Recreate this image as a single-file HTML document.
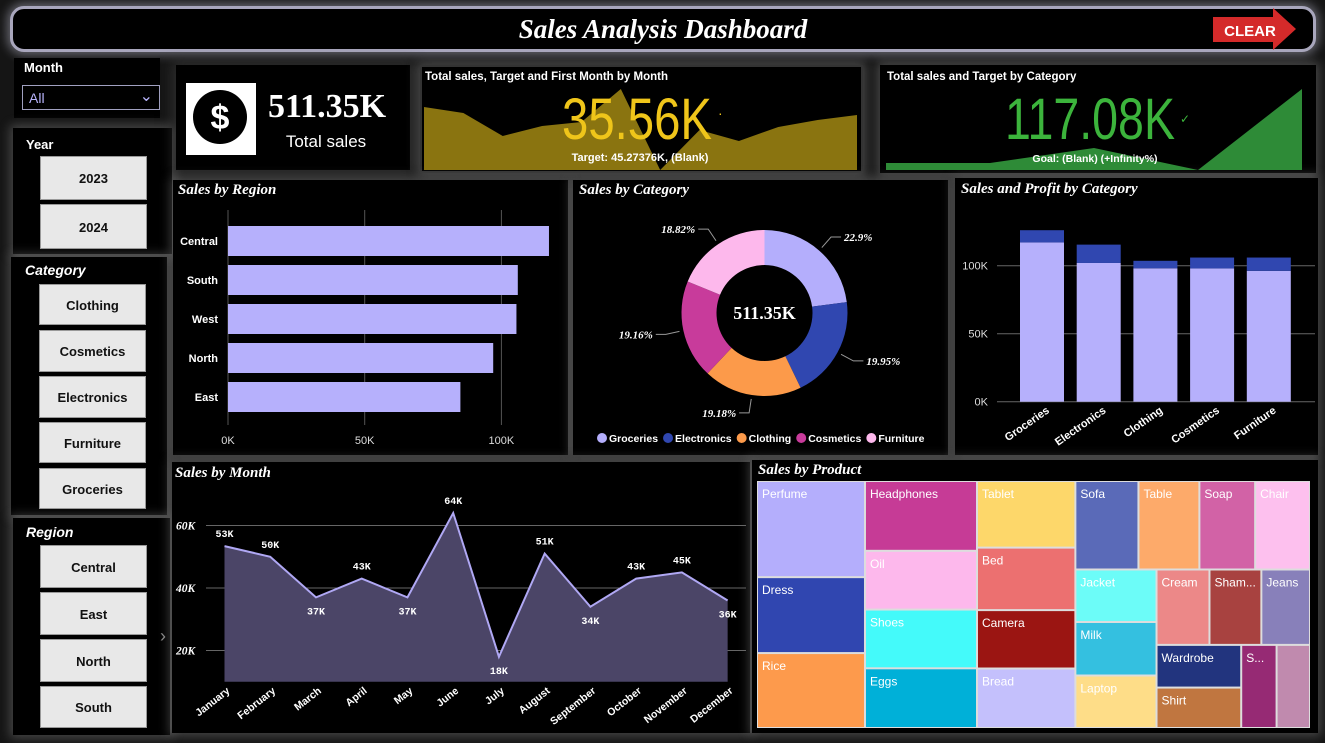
<!DOCTYPE html>
<html><head><meta charset="utf-8">
<style>
*{margin:0;padding:0;box-sizing:border-box}
body{width:1325px;height:743px;background:#151515;overflow:hidden;position:relative;font-family:"Liberation Sans",sans-serif;color:#fff}
.p{position:absolute;background:#000;box-shadow:0 0 10px 3px rgba(200,200,200,0.28)}
.btn{position:absolute;background:#e8e8e8;color:#111;font:bold 13px "Liberation Sans",sans-serif;text-align:center;border:1px solid #999}
.lbl{position:absolute;font:bold 13px "Liberation Sans",sans-serif;color:#fff}
svg{position:absolute;left:0;top:0}
</style></head><body>
<div class="p" style="left:10px;top:6px;width:1306px;height:46px;border:3px solid #a8a6bc;border-radius:14px;box-shadow:0 0 10px 3px rgba(200,200,220,0.45)"></div>
<div class="p" style="left:14px;top:58px;width:146px;height:60px;box-shadow:none"></div>
<div class="lbl" style="left:24px;top:60px">Month</div>
<div style="position:absolute;left:22px;top:85px;width:138px;height:25px;border:1px solid #a0a0c0;color:#b8b4fc;font-size:14px;padding:4px 6px">All<span style="position:absolute;right:6px;top:0;font-size:16px;color:#b8b4fc">&#8964;</span></div>
<div class="p" style="left:13px;top:128px;width:159px;height:126px"></div>
<div class="lbl" style="left:26px;top:137px">Year</div>
<div class="btn" style="left:40px;top:156px;width:107px;height:44px;line-height:44px">2023</div>
<div class="btn" style="left:40px;top:204px;width:107px;height:45px;line-height:45px">2024</div>
<div class="p" style="left:11px;top:257px;width:156px;height:258px"></div>
<div class="lbl" style="left:25px;top:262px;font-size:14px;font-style:italic">Category</div>
<div class="btn" style="left:39px;top:284px;width:107px;height:41px;line-height:41px">Clothing</div>
<div class="btn" style="left:39px;top:330px;width:107px;height:42px;line-height:42px">Cosmetics</div>
<div class="btn" style="left:39px;top:376px;width:107px;height:42px;line-height:42px">Electronics</div>
<div class="btn" style="left:39px;top:422px;width:107px;height:41px;line-height:41px">Furniture</div>
<div class="btn" style="left:39px;top:468px;width:107px;height:41px;line-height:41px">Groceries</div>
<div class="p" style="left:13px;top:518px;width:157px;height:217px"></div>
<div class="lbl" style="left:26px;top:524px;font-size:14px;font-style:italic">Region</div>
<div class="btn" style="left:40px;top:545px;width:107px;height:43px;line-height:43px">Central</div>
<div class="btn" style="left:40px;top:592px;width:107px;height:43px;line-height:43px">East</div>
<div class="btn" style="left:40px;top:639px;width:107px;height:43px;line-height:43px">North</div>
<div class="btn" style="left:40px;top:686px;width:107px;height:42px;line-height:42px">South</div>
<div class="p" style="left:176px;top:65px;width:234px;height:105px;box-shadow:0 0 12px 4px rgba(60,60,60,0.6)"></div>
<div class="p" style="left:420px;top:65px;width:443px;height:108px;border:2px solid #333"></div>
<div class="p" style="left:880px;top:65px;width:436px;height:108px"></div>
<div class="p" style="left:173px;top:180px;width:395px;height:275px"></div>
<div class="p" style="left:573px;top:180px;width:375px;height:275px"></div>
<div class="p" style="left:955px;top:178px;width:363px;height:277px"></div>
<div class="p" style="left:172px;top:462px;width:578px;height:271px"></div>
<div class="p" style="left:752px;top:460px;width:566px;height:273px"></div>

<svg id="s" width="1325" height="743" font-family="Liberation Sans, sans-serif">
<text x="663" y="38" text-anchor="middle" font-family="Liberation Serif, serif" font-style="italic" font-weight="bold" font-size="27" fill="#fff">Sales Analysis Dashboard</text>
<g>
<polygon points="1213,17 1273,17 1273,8 1296,29 1273,50 1273,42 1213,42" fill="#d42a2a"/>
<text x="1250" y="36" text-anchor="middle" font-weight="bold" font-size="15" fill="#fff">CLEAR</text></g>
<g>
<rect x="186" y="83" width="70" height="72" fill="#fff"/>
<circle cx="220" cy="117" r="27" fill="#000"/>
<text x="220" y="129" text-anchor="middle" font-weight="bold" font-size="34" fill="#fff">$</text></g>
<text x="268" y="117" font-family="Liberation Serif, serif" font-weight="bold" font-size="34" fill="#fff">511.35K</text>
<text x="326" y="147" text-anchor="middle" font-size="17" fill="#fff">Total sales</text>
<g id="kpi1"></g>
<text x="425" y="80" font-weight="bold" font-size="11.5" fill="#fff">Total sales, Target and First Month by Month</text>
<text x="637" y="139" text-anchor="middle" font-size="58" fill="#efc51a" textLength="150" lengthAdjust="spacingAndGlyphs">35.56K</text>
<text x="718" y="118" font-size="14" fill="#efc51a">·</text>
<text x="640" y="161" text-anchor="middle" font-weight="bold" font-size="11" fill="#fff">Target: 45.27376K, (Blank)</text>
<g id="kpi2"></g>
<text x="887" y="80" font-weight="bold" font-size="11.5" fill="#fff">Total sales and Target by Category</text>
<text x="1090" y="139" text-anchor="middle" font-size="58" fill="#3cb43c" textLength="170" lengthAdjust="spacingAndGlyphs">117.08K</text>
<text x="1180" y="123" font-size="12" fill="#3cb43c">✓</text>
<text x="1095" y="162" text-anchor="middle" font-weight="bold" font-size="10.5" fill="#fff">Goal: (Blank) (+Infinity%)</text>
<g font-family="Liberation Serif, serif" font-style="italic" font-weight="bold" font-size="15" fill="#fff">
<text x="178" y="194">Sales by Region</text>
<text x="579" y="194">Sales by Category</text>
<text x="961" y="193">Sales and Profit by Category</text>
<text x="175" y="477">Sales by Month</text>
<text x="758" y="474">Sales by Product</text>
</g>
<g id="region"></g><g id="donut"></g><g id="profit"></g><g id="month"></g><g id="tree"></g>
<text x="160" y="642" font-size="18" fill="#888">›</text>
</svg>
<script>
// ---- data ----
const kpi1Trend=[107,113,136,126,122,89,170,130,141,127,120,115];
const kpi2Trend=[163,163,148,170,89];
const regionNames=["Central","South","West","North","East"];
const regionSales=[117.4,106,105.5,97,85];
const regionTicks=[0,50,100];
const catNames=["Groceries","Electronics","Clothing","Cosmetics","Furniture"];
const catSales=[117.1,102,98.1,98,96.2];
const catProfit=[9,13.5,5.5,8,9.8];
const catPctLabels=["22.9%","19.95%","19.18%","19.16%","18.82%"];
const profitTicks=[0,50,100];
const months=["January","February","March","April","May","June","July","August","September","October","November","December"];
const monthSales=[53.4,50,37,43,37,64,18,51,34,43,45,36];
const monthTicks=[20,40,60];
const treeData={d:"h",c:[
 {d:"v",c:[{n:"Perfume",v:38.5,col:"#b4aefc"},{n:"Dress",v:30.4,col:"#3046b0"},{n:"Rice",v:30,col:"#fd9a4c"}]},
 {d:"v",c:[{n:"Headphones",v:29,col:"#c63b96"},{n:"Oil",v:24.4,col:"#fdb8ec"},{n:"Shoes",v:24.4,col:"#44fafa"},{n:"Eggs",v:24.8,col:"#00b0d8"}]},
 {d:"v",c:[{n:"Tablet",v:24.3,col:"#fdd76a"},{n:"Bed",v:22.8,col:"#ec7070"},{n:"Camera",v:21.3,col:"#9b1512"},{n:"Bread",v:21.7,col:"#c4c0fc"}]},
 {d:"v",c:[
   {d:"h",c:[{n:"Sofa",v:20.7,col:"#5a6ab8"},{n:"Table",v:20,col:"#fdaa6a"},{n:"Soap",v:18.3,col:"#d262a6"},{n:"Chair",v:18,col:"#fdc0ee"}]},
   {d:"h",c:[
     {d:"v",c:[{n:"Jacket",v:15.8,col:"#6cfcf8"},{n:"Milk",v:16.1,col:"#34c0e0"},{n:"Laptop",v:15.8,col:"#fedd88"}]},
     {d:"v",c:[
       {d:"h",c:[{n:"Cream",v:14.8,col:"#ec8888"},{n:"Sham...",v:14.5,col:"#a84240"},{n:"Jeans",v:13.6,col:"#8880ba"}]},
       {d:"h",c:[{d:"v",c:[{n:"Wardrobe",v:13.4,col:"#22347e"},{n:"Shirt",v:12.7,col:"#c07640"}]},{n:"S...",v:10.9,col:"#962a74"},{n:"",v:10.3,col:"#c08aae"}]}
     ]}
   ]}
 ]}
]};
// ---- helpers ----
const NS="http://www.w3.org/2000/svg";
function mk(tag,attrs,parent){const e=document.createElementNS(NS,tag);for(const k in attrs)e.setAttribute(k,attrs[k]);parent.appendChild(e);return e;}
// ---- KPI sparklines ----
(function(){
 const g=document.getElementById('kpi1');const x0=424,x1=857,base=170;
 let pts=[x0+","+base];kpi1Trend.forEach((v,i)=>pts.push((x0+i*(x1-x0)/(kpi1Trend.length-1))+","+v));pts.push(x1+","+base);
 const a=mk('polygon',{points:pts.join(' '),fill:'#8a7410'},g);
 
 
 const g2=document.getElementById('kpi2');const y0=886,y1=1302;
 let p2=[y0+",170"];kpi2Trend.forEach((v,i)=>p2.push((y0+i*(y1-y0)/(kpi2Trend.length-1))+","+v));p2.push(y1+",170");
 const b=mk('polygon',{points:p2.join(' '),fill:'#2e8b37'},g2);
 
 
})();
// ---- Region bar ----
(function(){
 const g=document.getElementById('region');const x=v=>228+v*2.734;
 regionTicks.forEach(t=>{
  const l=mk('line',{x1:x(t),x2:x(t),y1:210,y2:425,stroke:'#555','stroke-width':1},g);
  
  
  const tx=mk('text',{x:x(t),y:444,'text-anchor':'middle','font-size':11,fill:'#ddd'},g);tx.textContent=t+"K";
  
  
 });
 regionNames.forEach((n,i)=>{
  const y=226+i*39;
  const r=mk('rect',{x:x(0),y:y,width:x(regionSales[i])-x(0),height:30,fill:'#b6b0fc'},g);
  
  
  const t=mk('text',{x:218,y:y+19,'text-anchor':'end','font-size':11,'font-weight':'bold',fill:'#fff'},g);t.textContent=n;
  
  
 });
})();
// ---- Donut ----
(function(){
 const g=document.getElementById('donut');const cx=764.5,cy=313,R=83,r=48;
 const cols=["#b4aefc","#3047b0","#fc9a4a","#c83b9b","#fdb8ec"];
 const tot=catSales.reduce((a,b)=>a+b,0);let a0=0;
 catSales.forEach((v,i)=>{
  const a1=a0+v/tot*2*Math.PI;
  const P=(rad,a)=>[cx+rad*Math.sin(a),cy-rad*Math.cos(a)];
  const [x1,y1]=P(R,a0),[x2,y2]=P(R,a1),[x3,y3]=P(r,a1),[x4,y4]=P(r,a0);const lg=(a1-a0)>Math.PI?1:0;
  const p=mk('path',{d:`M${x1},${y1}A${R},${R} 0 ${lg} 1 ${x2},${y2}L${x3},${y3}A${r},${r} 0 ${lg} 0 ${x4},${y4}Z`,fill:cols[i]},g);
  
  
  const am=(a0+a1)/2;const [lx,ly]=P(R+4,am);const [ex,ey]=P(R+18,am);const right=Math.sin(am)>0;
  mk('polyline',{points:`${lx},${ly} ${ex},${ey} ${ex+(right?10:-10)},${ey}`,fill:'none',stroke:'#999'},g);
  const t=mk('text',{x:ex+(right?13:-13),y:ey+4,'text-anchor':right?'start':'end','font-family':'Liberation Serif, serif','font-style':'italic','font-weight':'bold','font-size':11,fill:'#fff'},g);
  t.textContent=catPctLabels[i];
  
  
  a0=a1;
 });
 const c=mk('text',{x:cx,y:cy+6,'text-anchor':'middle','font-family':'Liberation Serif, serif','font-weight':'bold','font-size':18,fill:'#fff'},g);c.textContent="511.35K";
 
 
 let lx=597;
 catNames.forEach((n,i)=>{
  const d=mk('circle',{cx:lx+5,cy:438,r:5,fill:cols[i]},g);
  
  
  const t=mk('text',{x:lx+12,y:442,'font-size':10.5,'font-weight':'bold',fill:'#fff'},g);t.textContent=n;
  
  
  lx+=12+t.getComputedTextLength()+5;
 });
})();
// ---- Profit stacked columns ----
(function(){
 const g=document.getElementById('profit');const y=v=>401.7-v*1.36;
 profitTicks.forEach(t=>{
  const l=mk('line',{x1:997,x2:1315,y1:y(t),y2:y(t),stroke:'#666'},g);
  
  
  const tx=mk('text',{x:988,y:y(t)+4,'text-anchor':'end','font-size':11,fill:'#ddd'},g);tx.textContent=t+"K";
  
  
 });
 catNames.forEach((n,i)=>{
  const cx=1042+i*56.7;
  const s=mk('rect',{x:cx-22,y:y(catSales[i]),width:44,height:y(0)-y(catSales[i]),fill:'#b6b0fc'},g);
  
  
  const p=mk('rect',{x:cx-22,y:y(catSales[i]+catProfit[i]),width:44,height:y(catSales[i])-y(catSales[i]+catProfit[i]),fill:'#3047b0'},g);
  
  
  const t=mk('text',{x:cx+8,y:412,'text-anchor':'end','font-size':11,'font-weight':'bold',fill:'#fff',transform:`rotate(-35 ${cx+8} 412)`},g);t.textContent=n;
  
  
 });
})();
// ---- Month area ----
(function(){
 const g=document.getElementById('month');const x=i=>224.5+i*45.74;const y=v=>713-v*3.125;
 monthTicks.forEach(t=>{
  const l=mk('line',{x1:206,x2:746,y1:y(t),y2:y(t),stroke:'#666'},g);
  
  
  const tx=mk('text',{x:176,y:y(t)+4,'font-family':'Liberation Serif, serif','font-style':'italic','font-weight':'bold','font-size':11.5,fill:'#fff'},g);tx.textContent=t+"K";
  
  
 });
 const line=monthSales.map((v,i)=>x(i)+","+y(v));
 const a=mk('polygon',{points:x(0)+","+y(10)+" "+line.join(' ')+" "+x(11)+","+y(10),fill:'#4b4567'},g);
 
 
 const pl=mk('polyline',{points:line.join(' '),fill:'none',stroke:'#b0a8f4','stroke-width':2},g);
 
 
 monthSales.forEach((v,i)=>{
  const prev=i>0?monthSales[i-1]:-1e9,next=i<11?monthSales[i+1]:-1e9;
  const below=v<prev&&v<next||(i===11&&v<prev);
  const t=mk('text',{x:x(i),y:below?y(v)+17:y(v)-9,'text-anchor':'middle','font-family':'Liberation Mono, monospace','font-weight':'bold','font-size':10,fill:'#fff'},g);
  t.textContent=Math.round(v)+"K";
  
  
  const m=mk('text',{x:x(i)+6,y:692,'text-anchor':'end','font-size':10.5,'font-weight':'bold',fill:'#fff',transform:`rotate(-38 ${x(i)+6} 692)`},g);
  m.textContent=months[i];
  
  
 });
})();
// ---- Treemap ----
(function(){
 const g=document.getElementById('tree');
 const sum=n=>n.c?n.c.reduce((a,c)=>a+sum(c),0):n.v;
 function lay(n,x,y,w,h){
  if(!n.c){
   const r=mk('rect',{x:x+1,y:y+1,width:w-2,height:h-2,fill:n.col},g);
   
   
   if(n.n){const t=mk('text',{x:x+5,y:y+17,'font-size':12,fill:'#fff'},g);t.textContent=n.n;
    
    }
   return;}
  const tot=sum(n);let o=0;
  n.c.forEach(c=>{const f=sum(c)/tot;
   if(n.d==="h"){lay(c,x+o,y,w*f,h);o+=w*f;}else{lay(c,x,y+o,w,h*f);o+=h*f;}});
 }
 mk('rect',{x:757,y:481,width:553,height:247,fill:'#ddd'},g);
 lay(treeData,757,481,553,247);
})();
</script>
</body></html>
